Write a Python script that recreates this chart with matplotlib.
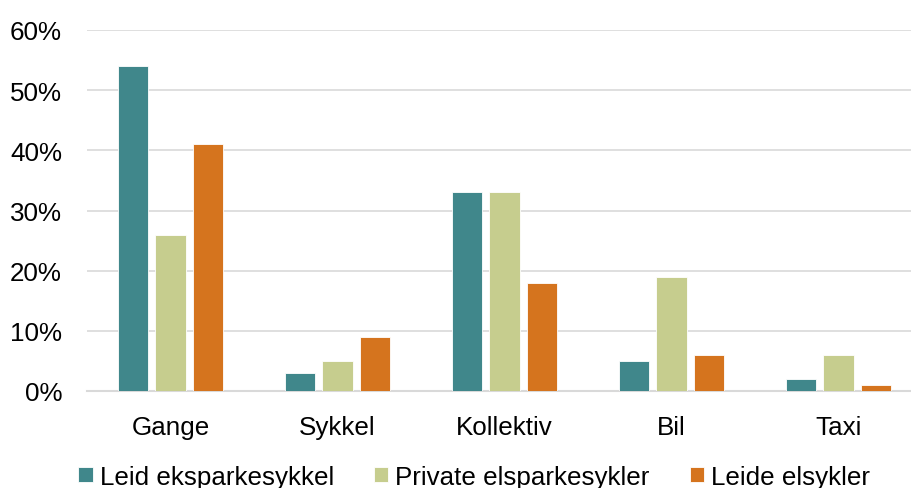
import numpy as np
import matplotlib.pyplot as plt

plt.rcParams['font.family'] = ['Liberation Sans', 'DejaVu Sans']

categories = ['Gange', 'Sykkel', 'Kollektiv', 'Bil', 'Taxi']
series_names = ['Leid eksparkesykkel', 'Private elsparkesykler', 'Leide elsykler']
leid_sparkesykkel = [54, 3, 33, 5, 2]
private_sparkesykler = [26, 5, 33, 19, 6]
leide_elsykler = [41, 9, 18, 6, 1]
yticks = [0, 10, 20, 30, 40, 50, 60]

colors = ['#40878B', '#C6CD8E', '#D5741E']

fig = plt.figure(figsize=(9.12, 4.89), dpi=100)
ax = fig.add_axes([87 / 912, 97 / 489, 835 / 912, 361 / 489])

x = np.arange(len(categories))
width = 0.18
offsets = [-0.222, 0, 0.222]
handles = []
for vals, off, c, name in zip([leid_sparkesykkel, private_sparkesykler, leide_elsykler],
                              offsets, colors, series_names):
    b = ax.bar(x + off, vals, width, color=c, edgecolor='white', linewidth=0.6,
               label=name, zorder=3)
    handles.append(b)

ax.set_xlim(-0.5, len(categories) - 0.5)
ax.set_ylim(0, 60)
ax.set_yticks(yticks)
ax.set_yticklabels([f'{v}%' for v in yticks])
ax.set_xticks(x)
ax.set_xticklabels(categories)
ax.tick_params(axis='both', length=0, labelsize=18.7, colors='black')
ax.tick_params(axis='y', pad=18)
ax.tick_params(axis='x', pad=17)
ax.grid(axis='y', color='#d9d9d9', linewidth=1.2, zorder=0)
for s in ['top', 'right', 'left']:
    ax.spines[s].set_visible(False)
ax.spines['bottom'].set_color('#d9d9d9')
ax.spines['bottom'].set_linewidth(1.5)

# legend sits at the very bottom, descenders clipped as in the original
fig.legend(handles=handles, labels=series_names, loc='lower left',
           bbox_to_anchor=(68 / 912, -11 / 489), ncol=3, frameon=False,
           fontsize=18.7, handlelength=0.55, handleheight=0.55,
           handletextpad=0.27, columnspacing=1.54, borderaxespad=0)

fig.savefig('out.png', dpi=100)
